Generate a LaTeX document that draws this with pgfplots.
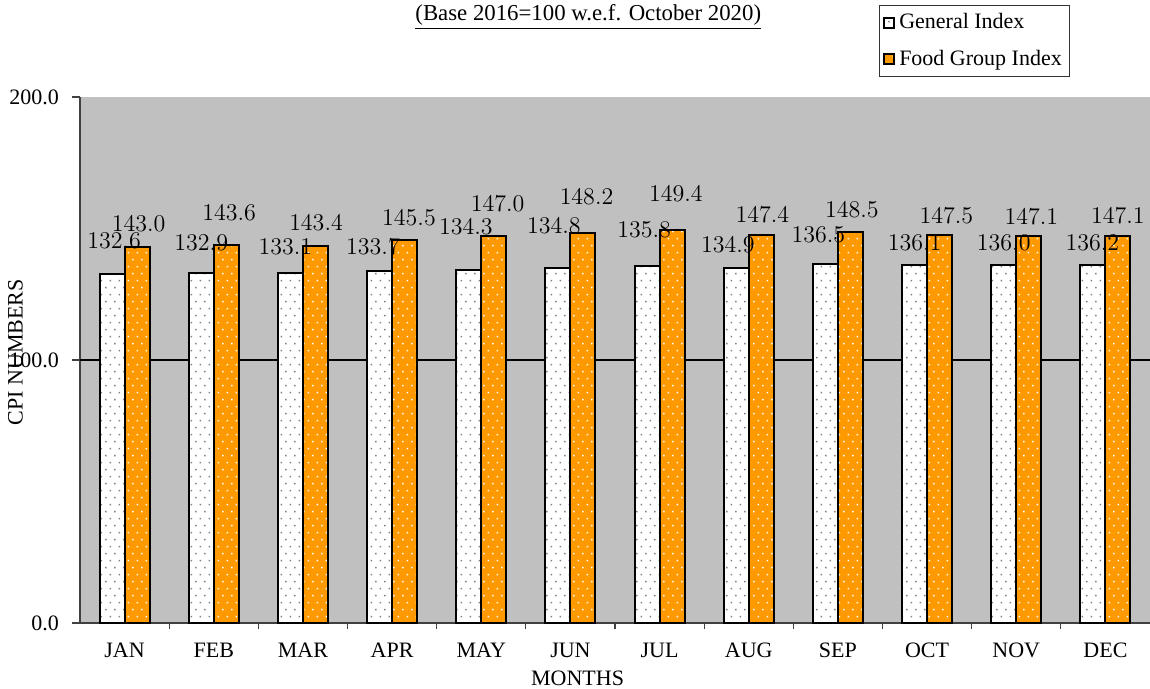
\documentclass[border=0pt]{standalone}
\usepackage{fontspec}
\setmainfont{Liberation Serif}
\usepackage{pgfplots}
\pgfplotsset{compat=1.18}
\usepackage{pgfplotstable}
\usetikzlibrary{patterns}
\definecolor{bg}{HTML}{C0C0C0}
\definecolor{foodor}{HTML}{FF9900}
\pgfdeclarepatternformonly{sdots}{\pgfqpoint{-0.1pt}{-0.1pt}}{\pgfqpoint{4.6pt}{7.1pt}}{\pgfqpoint{4.5pt}{7pt}}{%
 \pgfpathrectangle{\pgfqpoint{0.8pt}{0.8pt}}{\pgfqpoint{0.7pt}{0.7pt}}%
 \pgfpathrectangle{\pgfqpoint{3.05pt}{4.3pt}}{\pgfqpoint{0.7pt}{0.7pt}}%
 \pgfusepath{fill}}

\pgfplotstableread{
x y dx dy
0 132.6 1.0 16.8
1 132.9 0.0 15.5
2 133.1 -2.5 12.9
3 133.7 -3.3 12.2
4 134.3 -1.4 21.4
5 134.8 -2.0 21.6
6 135.8 -1.5 17.9
7 134.9 -4.2 11.5
8 136.5 -3.5 14.7
9 136.1 0.0 11.3
10 136.0 0.0 11.2
11 136.2 -0.3 10.9
}\gen

\pgfplotstableread{
x y dx dy
0 143.0 0.8 11.8
1 143.6 1.4 16.4
2 143.4 0.3 11.4
3 145.5 2.2 11.3
4 147.0 1.9 16.5
5 148.2 1.8 18.3
6 149.4 1.9 18.4
7 147.4 0.6 10.5
8 148.5 0.7 11.1
9 147.5 3.4 9.8
10 147.1 1.3 9.6
11 147.1 0.0 10.0
}\food

\begin{document}
\begin{tikzpicture}
\begin{axis}[
  scale only axis, width=535pt, height=263pt,
  font=\fontsize{11}{13}\selectfont,
  xmin=-0.5, xmax=11.5, ymin=0, ymax=200,
  clip=false,
  axis background/.style={fill=bg},
  axis x line*=bottom, axis y line*=left,
  axis line style={draw=black!75, line width=0.8pt},
  tick align=outside,
  major tick length=4pt, minor tick length=3pt,
  tick style={draw=black!75, line width=0.6pt},
  xtick={0,...,11},
  xticklabels={JAN,FEB,MAR,APR,MAY,JUN,JUL,AUG,SEP,OCT,NOV,DEC},
  major x tick style={draw=none},
  minor xtick={0.5,1.5,...,10.5},
  xticklabel style={font=\fontsize{11}{13}\selectfont, yshift=-2.5pt},
  ytick={0,100,200},
  extra y ticks={100}, extra y tick labels={},
  extra y tick style={grid=major, major grid style={draw=black, line width=0.6pt}},
  yticklabel style={/pgf/number format/fixed, /pgf/number format/fixed zerofill, /pgf/number format/precision=1, /pgf/number format/assume math mode=true, font=\fontsize{11}{13}\selectfont, xshift=-3pt},
  ylabel={CPI NUMBERS},
  ylabel style={at={(axis description cs:-0.0603,0.515)}, anchor=center},
  xlabel={MONTHS},
  xlabel style={at={(axis description cs:0.465,0)}, anchor=center, yshift=-27.5pt},
  legend style={at={(axis description cs:0.836,1)}, anchor=north, yshift=46pt,
    draw=black!80, line width=0.6pt, fill=white, inner sep=2pt, row sep=5pt,
    font=\fontsize{11}{13}\selectfont},
  legend cell align=left,
]
\coordinate (bl) at (rel axis cs:0,0);
\coordinate (tr) at (rel axis cs:1,1);

\addplot[ybar, bar width=12.5pt, bar shift=-6.25pt, fill=white, draw=black, line width=1pt,
  postaction={pattern=sdots, pattern color=gray},
  legend image code/.code={\draw[fill=white, draw=black, line width=1pt] (0pt,-2.5pt) rectangle (5pt,2.5pt);},
  nodes near coords={\pgfmathprintnumber[fixed,precision=1,zerofill]{\pgfplotspointmeta}},
  visualization depends on={\thisrow{dx} \as \dx},
  visualization depends on={\thisrow{dy} \as \dy},
  every node near coord/.append style={anchor=center, inner sep=0pt, xshift={\dx pt-6.25pt}, yshift=\dy pt, text=black, font=\fontsize{11.5}{13}\selectfont},
] table[x=x, y=y] {\gen};
\addlegendentry{General Index}

\addplot[ybar, bar width=12.5pt, bar shift=6.25pt, fill=foodor, draw=black, line width=1pt,
  postaction={pattern=sdots, pattern color=white},
  legend image code/.code={\draw[fill=foodor, draw=black, line width=1pt] (0pt,-2.5pt) rectangle (5pt,2.5pt);},
  nodes near coords={\pgfmathprintnumber[fixed,precision=1,zerofill]{\pgfplotspointmeta}},
  visualization depends on={\thisrow{dx} \as \dx},
  visualization depends on={\thisrow{dy} \as \dy},
  every node near coord/.append style={anchor=center, inner sep=0pt, xshift={\dx pt+6.25pt}, yshift=\dy pt, text=black, font=\fontsize{11.5}{13}\selectfont},
] table[x=x, y=y] {\food};
\addlegendentry{Food Group Index}

\node[font=\fontsize{11.4}{13}\selectfont, yshift=40pt] at (rel axis cs:0.475,1) {\underline{(Base 2016=100 w.e.f. October 2020)}};
\end{axis}
\pgfresetboundingbox
\path ([shift={(-40pt,-33pt)}]bl) rectangle ([shift={(0pt,48.5pt)}]tr);
\end{tikzpicture}
\end{document}
